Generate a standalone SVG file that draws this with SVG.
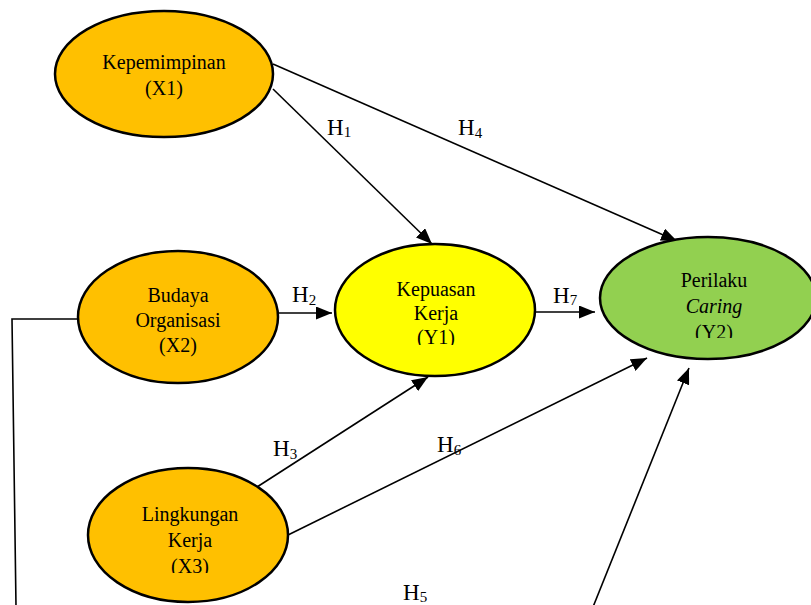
<svg xmlns="http://www.w3.org/2000/svg" width="811" height="605" viewBox="0 0 811 605">
<style>
.node{stroke:#000;stroke-width:2.5}
.lbl{font-family:"Liberation Serif","Times New Roman",Times,serif;font-size:20px;fill:#000;text-anchor:middle}
.h{font-family:"Liberation Serif","Times New Roman",Times,serif;font-size:23px;fill:#000}
.sub{font-size:15px}
.con{stroke:#000;stroke-width:1.6;fill:none}
</style>
<defs>
<marker id="arr" markerUnits="userSpaceOnUse" markerWidth="17" markerHeight="13" refX="16" refY="6.5" orient="auto">
<path d="M0,0 L16,6.5 L0,13 z" fill="#000"/>
</marker>
<clipPath id="cY1"><rect x="330" y="240" width="210" height="105"/></clipPath>
<clipPath id="cY2"><rect x="595" y="230" width="216" height="108"/></clipPath>
<clipPath id="cX3"><rect x="85" y="465" width="210" height="108"/></clipPath>
</defs>
<rect width="811" height="605" fill="#fff"/>
<g id="connectors">
<line class="con" x1="273" y1="89" x2="432" y2="244" marker-end="url(#arr)"/>
<line class="con" x1="273" y1="64" x2="677" y2="241" marker-end="url(#arr)"/>
<line class="con" x1="279" y1="313" x2="332" y2="313" marker-end="url(#arr)"/>
<line class="con" x1="536" y1="312" x2="595" y2="312" marker-end="url(#arr)"/>
<line class="con" x1="257" y1="487" x2="428" y2="377" marker-end="url(#arr)"/>
<line class="con" x1="288" y1="535" x2="647" y2="358" marker-end="url(#arr)"/>
<line class="con" x1="593" y1="607" x2="689" y2="368" marker-end="url(#arr)"/>
<polyline class="con" points="78,319 12,319 16,606"/>
</g>
<g id="labels">
<text class="h" x="327" y="135">H<tspan class="sub" dy="2">1</tspan></text>
<text class="h" x="458" y="135">H<tspan class="sub" dy="3">4</tspan></text>
<text class="h" x="292" y="302">H<tspan class="sub" dy="3">2</tspan></text>
<text class="h" x="553" y="303">H<tspan class="sub" dy="2">7</tspan></text>
<text class="h" x="273" y="456">H<tspan class="sub" dy="3">3</tspan></text>
<text class="h" x="437" y="452">H<tspan class="sub" dy="3">6</tspan></text>
<text class="h" x="403" y="600">H<tspan class="sub" dy="2">5</tspan></text>
</g>
<g id="X1">
<ellipse class="node" cx="164" cy="74" rx="109" ry="63" fill="#FFC000"/>
<text class="lbl" x="164" y="69">Kepemimpinan</text>
<text class="lbl" x="164" y="95">(X1)</text>
</g>
<g id="X2">
<ellipse class="node" cx="178" cy="317" rx="100" ry="66" fill="#FFC000"/>
<text class="lbl" x="178" y="302">Budaya</text>
<text class="lbl" x="178" y="327">Organisasi</text>
<text class="lbl" x="178" y="352">(X2)</text>
</g>
<g id="Y1">
<ellipse class="node" cx="435" cy="310" rx="100" ry="66" fill="#FFFF00"/>
<g clip-path="url(#cY1)">
<text class="lbl" x="436" y="296">Kepuasan</text>
<text class="lbl" x="436" y="320">Kerja</text>
<text class="lbl" x="436" y="344">(Y1)</text>
</g>
</g>
<g id="Y2">
<ellipse class="node" cx="708" cy="298" rx="108" ry="61" fill="#92D050"/>
<g clip-path="url(#cY2)">
<text class="lbl" x="714" y="287">Perilaku</text>
<text class="lbl" x="714" y="313" font-style="italic">Caring</text>
<text class="lbl" x="714" y="339">(Y2)</text>
</g>
</g>
<g id="X3">
<ellipse class="node" cx="188" cy="535" rx="100" ry="67" fill="#FFC000"/>
<g clip-path="url(#cX3)">
<text class="lbl" x="190" y="521">Lingkungan</text>
<text class="lbl" x="190" y="547">Kerja</text>
<text class="lbl" x="190" y="573">(X3)</text>
</g>
</g>
</svg>
